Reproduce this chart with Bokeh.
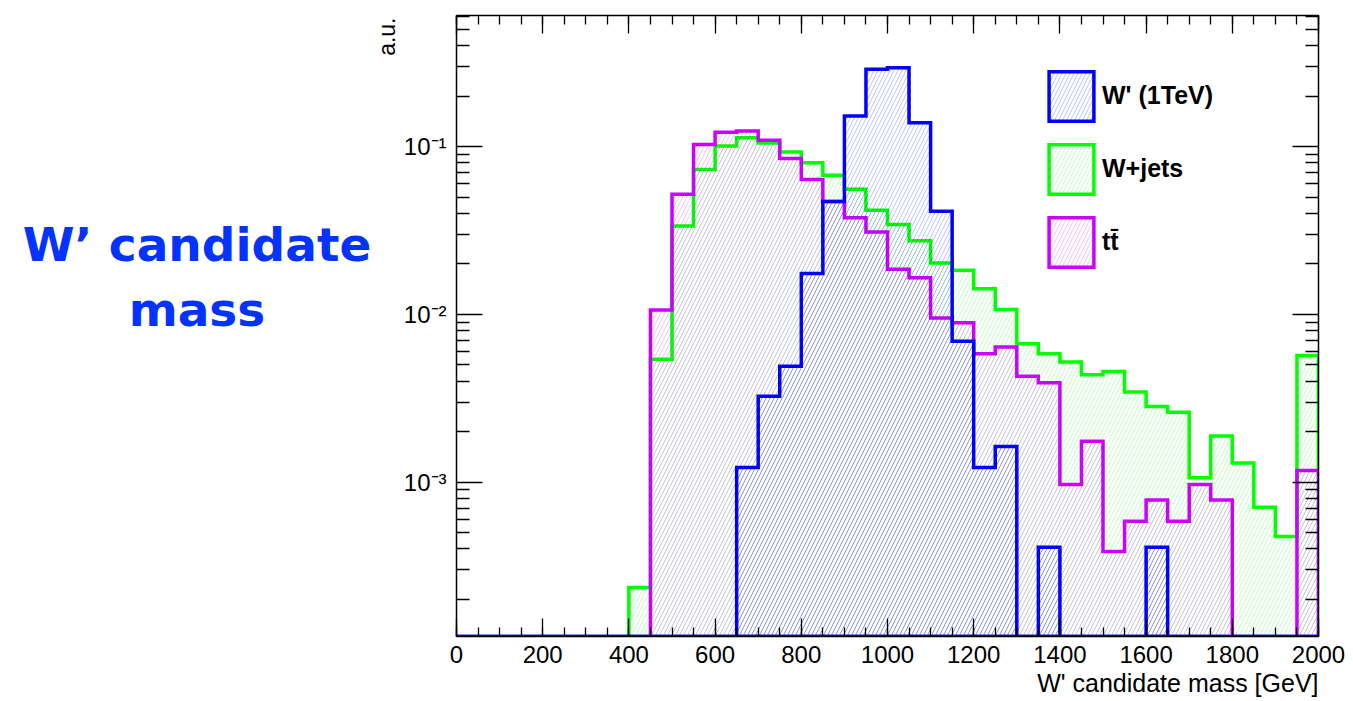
import numpy as np
from bokeh.plotting import figure
from bokeh.layouts import row
from bokeh.models import (Range1d, LogAxis, LinearAxis, FixedTicker, CustomJSTickFormatter,
                          Legend, LegendItem, ColumnDataSource, Title, Div)
from bokeh.embed import file_html
from bokeh.resources import INLINE

# ---------------- data ----------------
BIN_WIDTH = 50
N_BINS = 40
bin_edges = [i * BIN_WIDTH for i in range(N_BINS + 1)]   # 0 .. 2000 GeV

wprime = [0, 0, 0, 0, 0, 0, 0, 0, 0, 0,
          0, 0, 0, 1.22e-3, 3.25e-3, 4.9e-3, 0.0175, 0.047, 0.152, 0.289,
          0.295, 0.139, 0.0412, 0.0069, 1.22e-3, 1.63e-3, 0, 4.08e-4, 0, 0,
          0, 0, 4.08e-4, 0, 0, 0, 0, 0, 0, 0]

wjets = [0, 0, 0, 0, 0, 0, 0, 0, 2.35e-4, 5.4e-3,
         0.0336, 0.073, 0.101, 0.113, 0.105, 0.093, 0.080, 0.0676, 0.0557, 0.0418,
         0.0343, 0.0275, 0.0202, 0.0183, 0.0142, 0.0107, 6.68e-3, 5.82e-3, 5.19e-3, 4.36e-3,
         4.57e-3, 3.44e-3, 2.82e-3, 2.61e-3, 1.06e-3, 1.88e-3, 1.30e-3, 7.08e-4, 4.73e-4, 5.69e-3]

ttbar = [0, 0, 0, 0, 0, 0, 0, 0, 0, 0.0106,
         0.052, 0.103, 0.122, 0.124, 0.109, 0.085, 0.0636, 0.047, 0.0376, 0.031,
         0.0186, 0.0165, 0.0095, 0.0089, 5.82e-3, 6.38e-3, 4.27e-3, 3.91e-3, 9.66e-4, 1.75e-3,
         3.85e-4, 5.84e-4, 7.83e-4, 5.84e-4, 9.66e-4, 7.83e-4, 0, 0, 0, 1.17e-3]

series_labels = ["W' (1TeV)", "W+jets", "t" + "t\u0304"]
series_colors = ["#0000ff", "#00ff00", "#cc00ff"]

x_ticks = [0, 200, 400, 600, 800, 1000, 1200, 1400, 1600, 1800, 2000]
x_minor = [i * 50 for i in range(41)]
y_ticks = [1e-3, 1e-2, 1e-1]
y_minor = [m * 10.0 ** k for k in (-4, -3, -2, -1) for m in range(2, 10)]

X_MIN, X_MAX = 0, 2000
Y_MIN, Y_MAX = 1.2e-4, 0.605

# frame position in page pixels
FL, FT, FR, FB = 455, 15, 1318, 636
W, H = 1345, 697
DIV_W = 370
PW = W - DIV_W

# ---------------- figure ----------------
p = figure(width=PW, height=H, x_range=Range1d(X_MIN, X_MAX), y_range=Range1d(Y_MIN, Y_MAX),
           y_axis_type="log", output_backend="svg", toolbar_location=None,
           min_border_left=FL - DIV_W, min_border_right=W - FR, min_border_top=FT,
           min_border_bottom=H - FB, margin=0)
p.xgrid.visible = False
p.ygrid.visible = False
p.outline_line_color = None
p.background_fill_color = "white"
p.border_fill_color = "white"


def step_outline(values):
    floor = Y_MIN
    xs = [bin_edges[0]]
    ys = [floor]
    for i, v in enumerate(values):
        vv = max(v, floor)
        xs += [bin_edges[i], bin_edges[i + 1]]
        ys += [vv, vv]
    xs.append(bin_edges[-1])
    ys.append(floor)
    return xs, ys


renderers = {}
for name, vals, col in [("W+jets", wjets, series_colors[1]),
                        ("ttbar", ttbar, series_colors[2]),
                        ("W'", wprime, series_colors[0])]:
    xs, ys = step_outline(vals)
    src = ColumnDataSource(dict(x=xs, y=ys))
    r = p.patch("x", "y", source=src, fill_alpha=0.0, line_color=col, line_width=3.5,
                line_join="miter", hatch_pattern="/", hatch_color=col, hatch_alpha=0.4,
                hatch_weight=0.6, hatch_scale=8)
    renderers[name] = r

# ---------------- axes ----------------
xt = FixedTicker(ticks=x_ticks, minor_ticks=x_minor)
yt = FixedTicker(ticks=y_ticks, minor_ticks=y_minor)
yfmt = CustomJSTickFormatter(code="""
const e = Math.round(Math.log10(tick));
const sup = {"-":"\u207b","0":"\u2070","1":"\u00b9","2":"\u00b2","3":"\u00b3","4":"\u2074","5":"\u2075","6":"\u2076","7":"\u2077","8":"\u2078","9":"\u2079"};
return "10" + String(e).split("").map(c => sup[c]).join("");
""")
blank = CustomJSTickFormatter(code="return '';")


def style(ax, major_len, minor_len, labels=True):
    ax.axis_line_color = "black"
    ax.axis_line_width = 1.5
    ax.major_tick_line_color = "black"
    ax.minor_tick_line_color = "black"
    ax.major_tick_line_width = 1.3
    ax.minor_tick_line_width = 1.3
    ax.major_tick_in = major_len
    ax.major_tick_out = 0
    ax.minor_tick_in = minor_len
    ax.minor_tick_out = 0
    ax.axis_label = None
    if labels:
        ax.major_label_text_font = "Liberation Sans"
        ax.major_label_text_font_size = "24px"
        ax.major_label_text_color = "black"
    else:
        ax.formatter = blank
        ax.major_label_standoff = 0


xa = p.xaxis[0]
xa.ticker = xt
style(xa, 18, 9)
xa.major_label_standoff = 9

ya = p.yaxis[0]
ya.ticker = yt
ya.formatter = yfmt
style(ya, 26, 13)
ya.major_label_standoff = 10

top = LinearAxis(ticker=FixedTicker(ticks=x_ticks, minor_ticks=x_minor))
style(top, 18, 9, labels=False)
p.add_layout(top, "above")

right = LogAxis(ticker=FixedTicker(ticks=y_ticks, minor_ticks=y_minor))
style(right, 26, 13, labels=False)
p.add_layout(right, "right")

# ---------------- axis titles ----------------
p.add_layout(Title(text="W' candidate mass [GeV]", align="right", text_font="Liberation Sans",
                   text_font_size="25px", text_font_style="normal", text_color="black",
                   standoff=2), "below")
p.add_layout(Title(text="a.u.", align="right", text_font="Liberation Sans",
                   text_font_size="23px", text_font_style="normal", text_color="black",
                   standoff=2, offset=2), "left")

# legend: area glyphs are drawn with a 10% inset inside the glyph box
legend = Legend(items=[LegendItem(label=series_labels[0], renderers=[renderers["W'"]]),
                       LegendItem(label=series_labels[1], renderers=[renderers["W+jets"]]),
                       LegendItem(label=series_labels[2], renderers=[renderers["ttbar"]])],
                location=(1042 - FL, FB - 272.5), orientation="vertical",
                glyph_width=56, glyph_height=62, label_height=62, spacing=11,
                padding=0, margin=0, label_standoff=3,
                label_text_font="Liberation Sans", label_text_font_style="bold",
                label_text_font_size="25px", label_text_color="black",
                border_line_alpha=0, background_fill_alpha=0)
p.add_layout(legend)

# ---------------- slide title on the left ----------------
div = Div(width=DIV_W, height=H, margin=0, styles={"padding": "0", "margin": "0"}, text=(
    '<div style="font-family:\'DejaVu Sans\';font-weight:bold;font-size:47px;color:#0433ff;'
    'text-align:center;line-height:65px;white-space:nowrap;width:350px;margin-left:22px;'
    'margin-top:212px">W\u2019 candidate<br>mass</div>'))

layout = row(div, p, spacing=0)
open("out.html", "w").write(file_html(layout, INLINE))
